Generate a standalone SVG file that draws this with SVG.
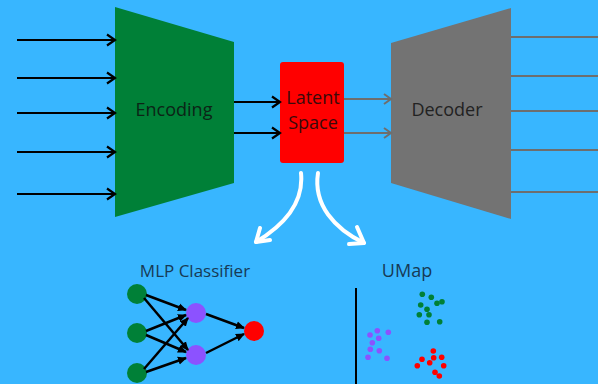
<svg xmlns="http://www.w3.org/2000/svg" width="598" height="384" viewBox="0 0 598 384">
  <defs>
    <style>
      .lbl { font-family: "Open Sans", "Noto Sans", "Liberation Sans", sans-serif; font-size: 18px; text-anchor: middle; }
      .in { stroke: #000; stroke-width: 2.2; fill: none; }
      .out { stroke: #6e6e6e; stroke-width: 2.2; fill: none; }
      .gl { stroke: #6e6e6e; stroke-width: 2; fill: none; }
      .wh { stroke: #fff; stroke-width: 4; fill: none; stroke-linecap: round; stroke-linejoin: round; }
      .nn { stroke: #000; stroke-width: 2.5; fill: none; }
    </style>
    <marker id="openBlack" markerWidth="12" markerHeight="14" refX="10" refY="7" orient="auto" markerUnits="userSpaceOnUse">
      <path d="M2,1.5 L10,7 L2,12.5" fill="none" stroke="#000" stroke-width="2.2"/>
    </marker>
    <marker id="openGray" markerWidth="12" markerHeight="14" refX="10" refY="7" orient="auto" markerUnits="userSpaceOnUse">
      <path d="M3,2 L10,7 L3,12" fill="none" stroke="#6e6e6e" stroke-width="2"/>
    </marker>
    <marker id="solidBlack" markerWidth="10" markerHeight="10" refX="8" refY="5" orient="auto" markerUnits="userSpaceOnUse">
      <path d="M0,1 L9,5 L0,9 Z" fill="#000"/>
    </marker>
  </defs>

  <rect width="598" height="384" fill="#38b6ff"/>

  <!-- encoder -->
  <g id="encoder">
    <polygon points="115,7 234,42 234,183 115,217" fill="#008037"/>
    <text class="lbl" x="174" y="116" fill="#0c2416">Encoding</text>
  </g>

  <!-- latent space -->
  <g id="latent">
    <rect x="280" y="62" width="64" height="101" rx="3" fill="#ff0000"/>
    <text class="lbl" x="313" y="104" fill="#3a0a0a">Latent</text>
    <text class="lbl" x="313" y="129" fill="#3a0a0a">Space</text>
  </g>

  <!-- decoder -->
  <g id="decoder">
    <polygon points="391,43 511,8 511,219 391,183" fill="#737373"/>
    <text class="lbl" x="447" y="116" fill="#222">Decoder</text>
  </g>

  <!-- MLP classifier -->
  <g id="mlp">
    <text class="lbl" x="195" y="277" fill="#173a55" style="font-size:17px">MLP Classifier</text>
    <circle cx="137" cy="294" r="10" fill="#008037"/>
    <circle cx="137" cy="333" r="10" fill="#008037"/>
    <circle cx="137" cy="373" r="10" fill="#008037"/>
    <circle cx="196" cy="313" r="10" fill="#8c52ff"/>
    <circle cx="196" cy="355" r="10" fill="#8c52ff"/>
    <circle cx="254" cy="331" r="10" fill="#ff0000"/>
  </g>

  <!-- UMap scatter -->
  <g id="umap">
    <text class="lbl" x="407" y="277" fill="#173a55">UMap</text>
    <line x1="356" y1="288" x2="356" y2="384" stroke="#000" stroke-width="2"/>
    <g fill="#008037">
      <circle cx="422.3" cy="294.3" r="2.8"/><circle cx="431.3" cy="297.3" r="2.8"/>
      <circle cx="437" cy="303.3" r="2.8"/><circle cx="442" cy="301.7" r="2.8"/>
      <circle cx="420.7" cy="305" r="2.8"/><circle cx="427" cy="309.3" r="2.8"/>
      <circle cx="419.3" cy="314.7" r="2.8"/><circle cx="429" cy="314.7" r="2.8"/>
      <circle cx="427" cy="322.3" r="2.8"/><circle cx="439.7" cy="321.7" r="2.8"/>
    </g>
    <g fill="#8c52ff">
      <circle cx="377.3" cy="330.7" r="2.8"/><circle cx="370" cy="335" r="2.8"/>
      <circle cx="388.3" cy="332.3" r="2.8"/><circle cx="378.7" cy="338.3" r="2.8"/>
      <circle cx="372.3" cy="342.7" r="2.8"/><circle cx="370.3" cy="349.3" r="2.8"/>
      <circle cx="379.3" cy="350.7" r="2.8"/><circle cx="368" cy="357.3" r="2.8"/>
      <circle cx="387" cy="358.3" r="2.8"/>
    </g>
    <g fill="#ff0000">
      <circle cx="433.3" cy="351" r="2.8"/><circle cx="422" cy="359.3" r="2.8"/>
      <circle cx="433.7" cy="357.7" r="2.8"/><circle cx="441.7" cy="357.3" r="2.8"/>
      <circle cx="429.7" cy="362.7" r="2.8"/><circle cx="417.3" cy="365.7" r="2.8"/>
      <circle cx="443.7" cy="365.7" r="2.8"/><circle cx="435" cy="372.3" r="2.8"/>
      <circle cx="439.3" cy="376" r="2.8"/>
    </g>
  </g>

  <!-- connectors -->
  <g id="connectors">
    <!-- inputs into encoder -->
    <line class="in" x1="17" y1="40" x2="115" y2="40" marker-end="url(#openBlack)"/>
    <line class="in" x1="17" y1="78" x2="115" y2="78" marker-end="url(#openBlack)"/>
    <line class="in" x1="17" y1="113" x2="115" y2="113" marker-end="url(#openBlack)"/>
    <line class="in" x1="17" y1="152" x2="115" y2="152" marker-end="url(#openBlack)"/>
    <line class="in" x1="17" y1="194" x2="115" y2="194" marker-end="url(#openBlack)"/>
    <!-- encoder to latent -->
    <line class="in" x1="234" y1="102" x2="280" y2="102" marker-end="url(#openBlack)"/>
    <line class="in" x1="234" y1="133" x2="280" y2="133" marker-end="url(#openBlack)"/>
    <!-- latent to decoder -->
    <line class="gl" x1="344" y1="99" x2="391" y2="99" marker-end="url(#openGray)"/>
    <line class="gl" x1="344" y1="133" x2="391" y2="133" marker-end="url(#openGray)"/>
    <!-- decoder outputs -->
    <line class="out" x1="511" y1="37" x2="598" y2="37"/>
    <line class="out" x1="511" y1="76" x2="598" y2="76"/>
    <line class="out" x1="511" y1="111" x2="598" y2="111"/>
    <line class="out" x1="511" y1="150" x2="598" y2="150"/>
    <line class="out" x1="511" y1="192" x2="598" y2="192"/>
    <!-- curved white arrows from latent space -->
    <path class="wh" d="M301,173 C304,202 286,224 256,242"/>
    <path class="wh" d="M260,228 L256,242 L270,240"/>
    <path class="wh" d="M318,173 C313,205 335,229 364,243"/>
    <path class="wh" d="M357,227 L364,243 L349,244"/>
    <!-- MLP edges -->
    <line class="nn" x1="146" y1="295" x2="186" y2="310" marker-end="url(#solidBlack)"/>
    <line class="nn" x1="144" y1="298" x2="188" y2="350" marker-end="url(#solidBlack)"/>
    <line class="nn" x1="146" y1="331" x2="186" y2="315" marker-end="url(#solidBlack)"/>
    <line class="nn" x1="146" y1="335" x2="186" y2="352" marker-end="url(#solidBlack)"/>
    <line class="nn" x1="144" y1="369" x2="188" y2="318" marker-end="url(#solidBlack)"/>
    <line class="nn" x1="146" y1="372" x2="186" y2="358" marker-end="url(#solidBlack)"/>
    <line class="nn" x1="206" y1="314" x2="244" y2="328" marker-end="url(#solidBlack)"/>
    <line class="nn" x1="206" y1="353" x2="244" y2="334" marker-end="url(#solidBlack)"/>
  </g>
</svg>
